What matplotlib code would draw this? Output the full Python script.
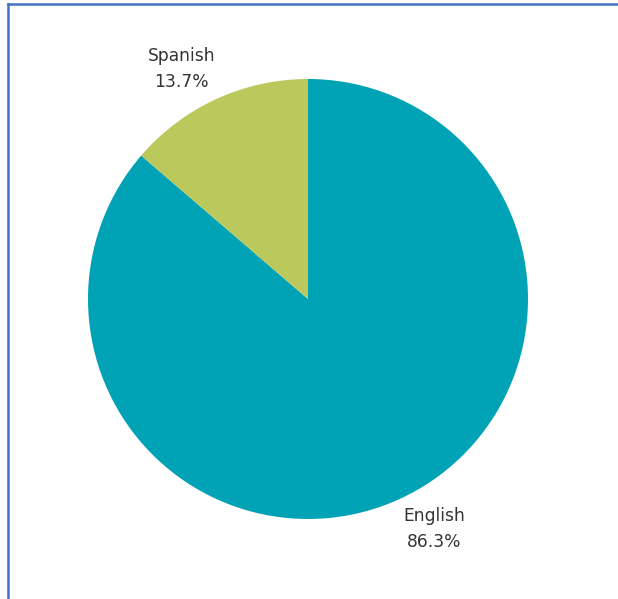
import numpy as np
import matplotlib
matplotlib.use("Agg")
import matplotlib.pyplot as plt
from matplotlib.lines import Line2D

# language share
languages = ["English", "Spanish"]
shares = [86.3, 13.7]
colors = ["#00A2B5", "#BBC95C"]

W, H = 618, 599
fig = plt.figure(figsize=(W / 100, H / 100), dpi=100)
ax = fig.add_axes([0, 0, 1, 1])

cx, cy, r = 308, H - 299, 220
wedges, _ = ax.pie(shares, colors=colors, startangle=90, counterclock=False,
                   center=(cx, cy), radius=r, frame=True,
                   wedgeprops=dict(linewidth=0))
ax.set_xlim(0, W)
ax.set_ylim(0, H)
ax.set_aspect("equal")
ax.axis("off")

# labels outside each slice
for w, name, val in zip(wedges, languages, shares):
    mid = np.deg2rad((w.theta1 + w.theta2) / 2)
    dx, dy = np.cos(mid), np.sin(mid)
    x = cx + 1.19 * r * dx + np.sign(dx) * 17
    y = cy + 1.19 * r * dy - np.sign(dy) * 8
    ax.text(x, y, f"{name}\n{val:.1f}%", ha="center", va="center",
            fontsize=12.3, color="#333333", linespacing=1.6)

# frame lines on top and left
bc = "#4472C4"
fig.add_artist(Line2D([8 / W, 1], [1 - 4 / H, 1 - 4 / H], color=bc, lw=1.8,
                      transform=fig.transFigure))
fig.add_artist(Line2D([8 / W, 8 / W], [0, 1 - 4 / H], color=bc, lw=1.8,
                      transform=fig.transFigure))

fig.savefig("out.png", dpi=100, facecolor="white")
